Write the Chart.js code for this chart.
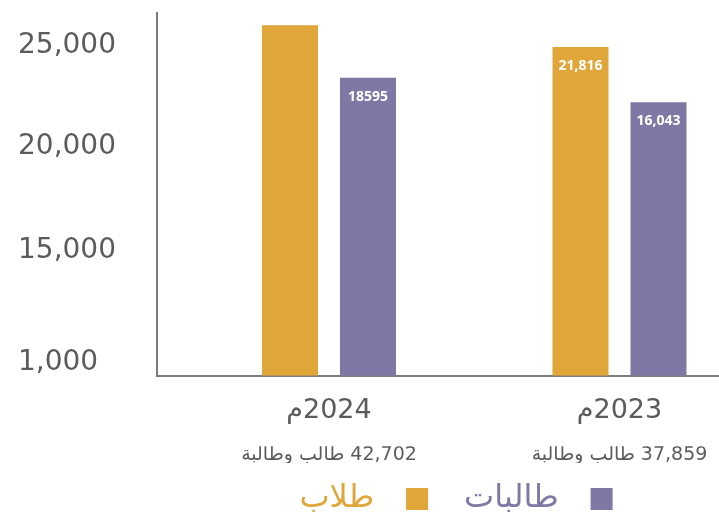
<!DOCTYPE html>
<html lang="ar" dir="rtl">
<head>
<meta charset="utf-8">
<script src="https://cdn.jsdelivr.net/npm/chart.js@4.4.1/dist/chart.umd.min.js"></script>
<style>
  html, body { margin: 0; padding: 0; background: #fff; }
  #wrap { width: 719px; height: 517px; }
</style>
</head>
<body>
<div id="wrap"><canvas id="my-chart"></canvas></div>
<script>
// years, right to left as in the original
const categories = ['2023م', '2024م'];
const totals = ['37,859 طالب وطالبة', '42,702 طالب وطالبة'];
const seriesNames = ['طلاب', 'طالبات'];
const maleValues = [21816, 24107];
const femaleValues = [16043, 18595];
const maleValueLabels = ['21,816', ''];
const femaleValueLabels = ['16,043', '18595'];
// the printed axis is not linear, labels sit at these values
const yTickValues = [22000, 11400, 470, -11250];
const yTickLabels = ['25,000', '20,000', '15,000', '1,000'];
const yMin = -12575;
const yMax = 25380;

const colors = ['#e0a63a', '#7f77a4'];
const gray = '#5b5b5e';
const axisGray = '#7b7b7b';
const font = "'DejaVu Sans', sans-serif";

const valueLabels = {
  id: 'valueLabels',
  afterDatasetsDraw(chart) {
    const texts = [maleValueLabels, femaleValueLabels];
    const ctx = chart.ctx;
    ctx.save();
    ctx.font = "bold 14px 'Open Sans', sans-serif";
    ctx.fillStyle = '#fff';
    ctx.textAlign = 'center';
    ctx.textBaseline = 'middle';
    chart.data.datasets.forEach((ds, d) => {
      chart.getDatasetMeta(d).data.forEach((bar, i) => {
        if (texts[d][i]) ctx.fillText(texts[d][i], bar.x, bar.y + 19);
      });
    });
    ctx.restore();
  }
};

// legend sits a bit right of the plot centre in the original
const legendShift = {
  id: 'legendShift',
  afterLayout(chart) {
    chart.legend.left += 18;
    chart.legend.right += 18;
  }
};

const catTicks = scale => { scale.ticks = categories.map((c, i) => ({ value: i })); };

const xCommon = {
  type: 'linear',
  position: 'bottom',
  reverse: true,
  offset: false,
  min: -0.3425,
  max: 1.592,
  afterBuildTicks: catTicks,
  grid: { display: false, drawTicks: false }
};

new Chart(document.getElementById('my-chart'), {
  type: 'bar',
  data: {
    datasets: [
      {
        label: seriesNames[0],
        data: maleValues.map((v, i) => ({ x: i, y: v })),
        backgroundColor: colors[0],
        base: yMin
      },
      {
        label: seriesNames[1],
        data: femaleValues.map((v, i) => ({ x: i, y: v })),
        backgroundColor: colors[1],
        base: yMin
      }
    ]
  },
  options: {
    responsive: true,
    maintainAspectRatio: false,
    animation: false,
    categoryPercentage: 0.537,
    barPercentage: 0.718,
    layout: { padding: { left: 18, top: 13, right: 0, bottom: -8 } },
    scales: {
      y: {
        min: yMin,
        max: yMax,
        afterBuildTicks: scale => { scale.ticks = yTickValues.map(v => ({ value: v })); },
        afterFit: scale => { scale.width = 139; },
        grid: { display: false, drawTicks: false },
        border: { color: axisGray, width: 2 },
        ticks: {
          crossAlign: 'far',
          padding: 0,
          color: gray,
          font: { family: font, size: 28, lineHeight: 0.8 },
          callback: (v, i) => yTickLabels[i]
        }
      },
      x: {
        ...xCommon,
        weight: 0,
        border: { color: axisGray, width: 2 },
        ticks: {
          autoSkip: false,
          maxRotation: 0,
          padding: 19,
          color: gray,
          font: { family: font, size: 27 },
          callback: (v, i) => categories[i]
        }
      },
      x2: {
        ...xCommon,
        weight: 1,
        border: { display: false },
        ticks: {
          autoSkip: false,
          maxRotation: 0,
          padding: -3,
          color: gray,
          font: { family: font, size: 19 },
          callback: (v, i) => totals[i]
        }
      }
    },
    plugins: {
      tooltip: { enabled: false },
      legend: {
        position: 'bottom',
        fullSize: false,
        rtl: true,
        reverse: true,
        labels: {
          boxWidth: 22,
          boxHeight: 22,
          padding: 20,
          font: { family: font, size: 32 },
          generateLabels: chart => {
            const items = Chart.defaults.plugins.legend.labels.generateLabels(chart);
            items.forEach(it => {
              it.fontColor = colors[it.datasetIndex];
              // wider gap between square and word, and between the two items
              it.text = '\u2002' + it.text + (it.datasetIndex === 1 ? '\u2002' : '');
            });
            return items;
          }
        }
      }
    }
  },
  plugins: [valueLabels, legendShift]
});
</script>
</body>
</html>
